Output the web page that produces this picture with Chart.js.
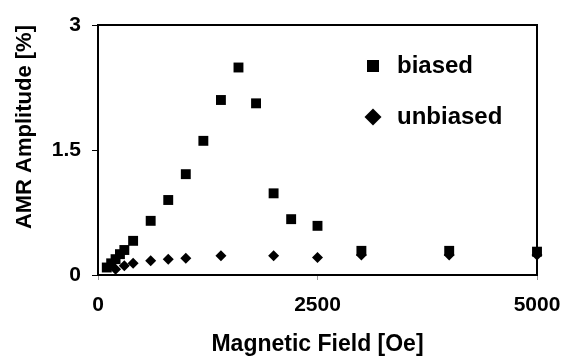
<!DOCTYPE html>
<html><head><meta charset="utf-8">
<style>html,body{margin:0;padding:0;background:#fff}canvas{display:block}</style>
<script src="https://cdn.jsdelivr.net/npm/chart.js@4"></script>
</head><body>
<canvas id="c" width="564" height="356"></canvas>
<script>
const seriesNames = ['biased', 'unbiased'];
const fieldBiased = [100, 150, 200, 250, 300, 400, 600, 800, 1000, 1200, 1400, 1600, 1800, 2000, 2200, 2500, 3000, 4000, 5000];
const ampBiased = [0.09, 0.14, 0.19, 0.25, 0.30, 0.41, 0.65, 0.90, 1.21, 1.61, 2.10, 2.49, 2.06, 0.98, 0.67, 0.59, 0.29, 0.29, 0.28];
const fieldUnbiased = [200, 300, 400, 600, 800, 1000, 1400, 2000, 2500, 3000, 4000, 5000];
const ampUnbiased = [0.07, 0.11, 0.14, 0.17, 0.19, 0.20, 0.23, 0.23, 0.21, 0.24, 0.24, 0.24];
const xTicks = [0, 2500, 5000];
const yTicks = [0, 1.5, 3];
const xTitle = 'Magnetic Field [Oe]';
const yTitle = 'AMR Amplitude [%]';

const FONT = '"Liberation Sans", Arial, Helvetica, sans-serif';
Chart.defaults.font.family = FONT;
Chart.defaults.color = '#000';

const toPoints = (xs, ys) => xs.map((x, i) => ({x: x, y: ys[i]}));

const framePlugin = {
  id: 'frame',
  beforeDatasetsDraw(chart) {
    const {ctx, chartArea: a} = chart;
    ctx.save();
    ctx.strokeStyle = '#000';
    ctx.lineWidth = 2;
    ctx.strokeRect(a.left, a.top, a.right - a.left, a.bottom - a.top);
    ctx.restore();
  }
};

const legendPlace = {
  id: 'legendPlace',
  afterLayout(chart) {
    const lg = chart.legend;
    if (!lg) return;
    lg.left = 334; lg.top = 27;
    lg.right = 564; lg.bottom = 356;
    lg.width = lg.right - lg.left; lg.height = lg.bottom - lg.top;
  }
};

new Chart(document.getElementById('c'), {
  type: 'scatter',
  data: {
    datasets: [
      {
        label: seriesNames[0],
        data: toPoints(fieldBiased, ampBiased),
        pointStyle: 'rect',
        pointRadius: 7,
        pointBorderWidth: 0,
        backgroundColor: '#000',
        borderColor: '#000',
        clip: false
      },
      {
        label: seriesNames[1],
        data: toPoints(fieldUnbiased, ampUnbiased),
        pointStyle: 'rectRot',
        pointRadius: 5.5,
        pointBorderWidth: 0,
        backgroundColor: '#000',
        borderColor: '#000',
        clip: false
      }
    ]
  },
  options: {
    responsive: false,
    animation: false,
    layout: {padding: {top: 25, right: 27, left: 0, bottom: 0}},
    plugins: {
      tooltip: {enabled: false},
      legend: {
        position: 'chartArea',
        align: 'start',
        labels: {
          usePointStyle: true,
          boxWidth: 24,
          boxHeight: 12,
          padding: 27,
          color: '#000',
          font: {family: FONT, size: 24, weight: 'bold'}
        }
      }
    },
    scales: {
      x: {
        type: 'linear',
        min: 0, max: 5000,
        afterBuildTicks: s => { s.ticks = xTicks.map(v => ({value: v})); },
        afterFit: s => { s.height = 81; s.paddingLeft = 0; s.paddingRight = 0; },
        ticks: {
          padding: 13,
          maxRotation: 0,
          color: '#000',
          font: {family: FONT, size: 21, weight: 'bold'},
          callback: v => String(v)
        },
        grid: {drawOnChartArea: false, tickLength: 5, color: '#999', lineWidth: 1},
        border: {display: false},
        title: {
          display: true, text: xTitle, color: '#000',
          font: {family: FONT, size: 23, weight: 'bold'},
          padding: {top: 0, bottom: -2}
        }
      },
      y: {
        type: 'linear',
        min: 0, max: 3,
        afterBuildTicks: s => { s.ticks = yTicks.map(v => ({value: v})); },
        afterFit: s => { s.width = 98; s.paddingTop = 0; s.paddingBottom = 0; },
        ticks: {
          padding: 11,
          color: '#000',
          font: {family: FONT, size: 21, weight: 'bold'},
          callback: v => String(v)
        },
        grid: {drawOnChartArea: false, tickLength: 6, color: '#000', lineWidth: 1},
        border: {display: false},
        title: {
          display: true, text: yTitle, color: '#000', align: 'end',
          font: {family: FONT, size: 22, weight: 'bold'},
          padding: {top: 12, bottom: 0}
        }
      }
    }
  },
  plugins: [framePlugin, legendPlace]
});
</script>
</body></html>
